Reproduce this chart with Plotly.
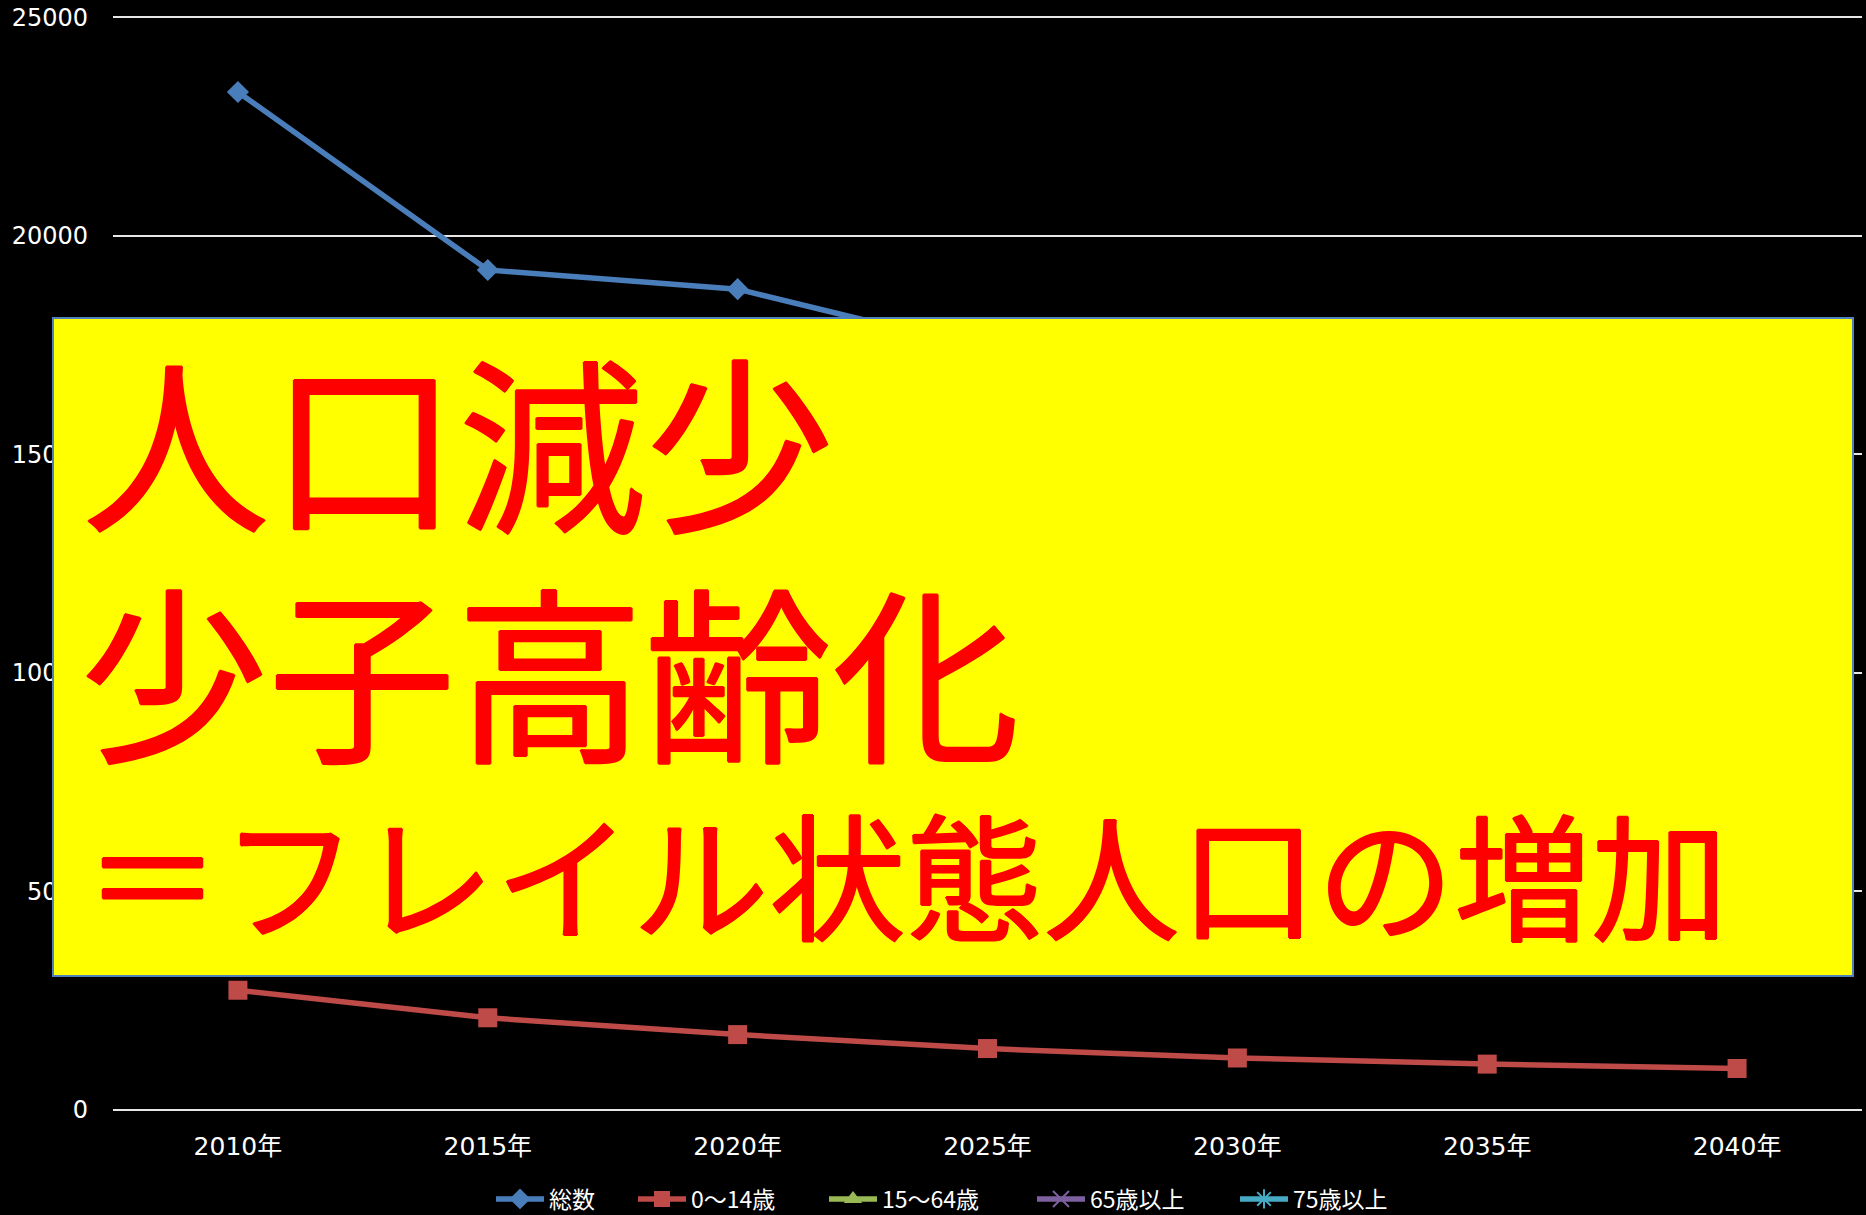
import plotly.graph_objects as go

years = ["2010年", "2015年", "2020年", "2025年", "2030年", "2035年", "2040年"]
total = [23290, 19220, 18780, 17400, 16000, 14600, 13200]
age_0_14 = [2740, 2110, 1725, 1406, 1190, 1050, 950]
age_15_64 = [13400, 10600, 9900, 9100, 8300, 7400, 6300]
age_65_plus = [7100, 6500, 7100, 6900, 6500, 6200, 5950]
age_75_plus = [4100, 3900, 4000, 4300, 4500, 4300, 4000]

series_names = ["総数", "0〜14歳", "15〜64歳", "65歳以上", "75歳以上"]
y_ticks = [0, 5000, 10000, 15000, 20000, 25000]

overlay_lines = ["人口減少", "少子高齢化", "＝フレイル状態人口の増加"]

W, H = 1866, 1215
ML, MR, MT, MB = 113, 4, 15, 103
PW, PH = W - ML - MR, H - MT - MB
UNIT = 25000 / 1093.0  # value per pixel
Y0 = -2 * UNIT
Y1 = 25000 + 2.3 * UNIT


def px_x(px):
    return (px - ML) / PW


def px_y(py):
    return (H - MB - py) / PH


fig = go.Figure()
styles = [
    dict(line=dict(color="#4A7EBB", width=5.5), marker=dict(symbol="diamond", size=17, color="#4A7EBB")),
    dict(line=dict(color="#BE4B48", width=5.5), marker=dict(symbol="square", size=19, color="#BE4B48")),
    dict(line=dict(color="#98B954", width=5.5), marker=dict(symbol="triangle-up", size=17, color="#98B954")),
    dict(line=dict(color="#7D60A0", width=5.5), marker=dict(symbol="x-thin-open", size=17, color="#7D60A0", line=dict(width=2, color="#7D60A0"))),
    dict(line=dict(color="#46AAC5", width=5.5), marker=dict(symbol="asterisk-open", size=17, color="#46AAC5", line=dict(width=2, color="#46AAC5"))),
]
legend_ids = ["legend", "legend2", "legend3", "legend4", "legend5"]
text_starts = [549, 691, 882, 1090, 1293]
for name, vals, st, lid in zip(series_names, [total, age_0_14, age_15_64, age_65_plus, age_75_plus], styles, legend_ids):
    fig.add_trace(go.Scatter(x=years, y=vals, name=name, mode="lines+markers", legend=lid, **st))

# yellow overlay box
fig.add_shape(type="rect", xref="paper", yref="paper",
              x0=px_x(53), x1=px_x(1853), y0=px_y(976), y1=px_y(318),
              fillcolor="#FFFF00", line=dict(color="#4F81BD", width=2), layer="above")

shadow = "1px 0 0 #FF0000, -1px 0 0 #FF0000, 0 1px 0 #FF0000, 0 -1px 0 #FF0000"
line_cfg = [(80, 436, 188, 212), (78, 666, 188, 212), (82, 871, 137, 160)]
for txt, (lx, cy, fs, hh) in zip(overlay_lines, line_cfg):
    fig.add_annotation(text=txt, xref="paper", yref="paper", x=px_x(lx), y=px_y(cy),
                       xanchor="left", yanchor="middle", showarrow=False, height=hh,
                       valign="middle",
                       font=dict(family="Noto Sans CJK JP", size=fs, color="#FF0000",
                                 shadow=shadow))

legend_common = dict(orientation="h", xref="container", yref="container",
                     xanchor="left", yanchor="middle", y=1 - 1199 / H,
                     font=dict(size=23, color="white", family="Noto Sans CJK JP"),
                     bgcolor="rgba(0,0,0,0)", itemwidth=48, borderwidth=0)
legend_layout = {}
for lid, ts in zip(legend_ids, text_starts):
    legend_layout[lid] = dict(x=(ts - 58) / W, **legend_common)

fig.update_layout(
    width=W, height=H,
    margin=dict(l=ML, r=MR, t=MT, b=MB),
    paper_bgcolor="black", plot_bgcolor="black",
    font=dict(family="DejaVu Sans, Noto Sans CJK JP", color="white", size=24),
    showlegend=True,
    **legend_layout,
)
fig.update_xaxes(type="category", range=[-0.5, 6.5], showgrid=False, zeroline=False,
                 showline=False, ticks="", tickfont=dict(size=25, color="white"),
                 ticklabelstandoff=17)
fig.update_yaxes(range=[Y0, Y1], tickvals=y_ticks, ticktext=[str(v) for v in y_ticks],
                 showgrid=True, gridcolor="#E6E6E6", gridwidth=2, zeroline=False,
                 showline=False, ticks="", tickfont=dict(size=24, color="white"),
                 ticklabelstandoff=24)

fig.write_html("out.html")
